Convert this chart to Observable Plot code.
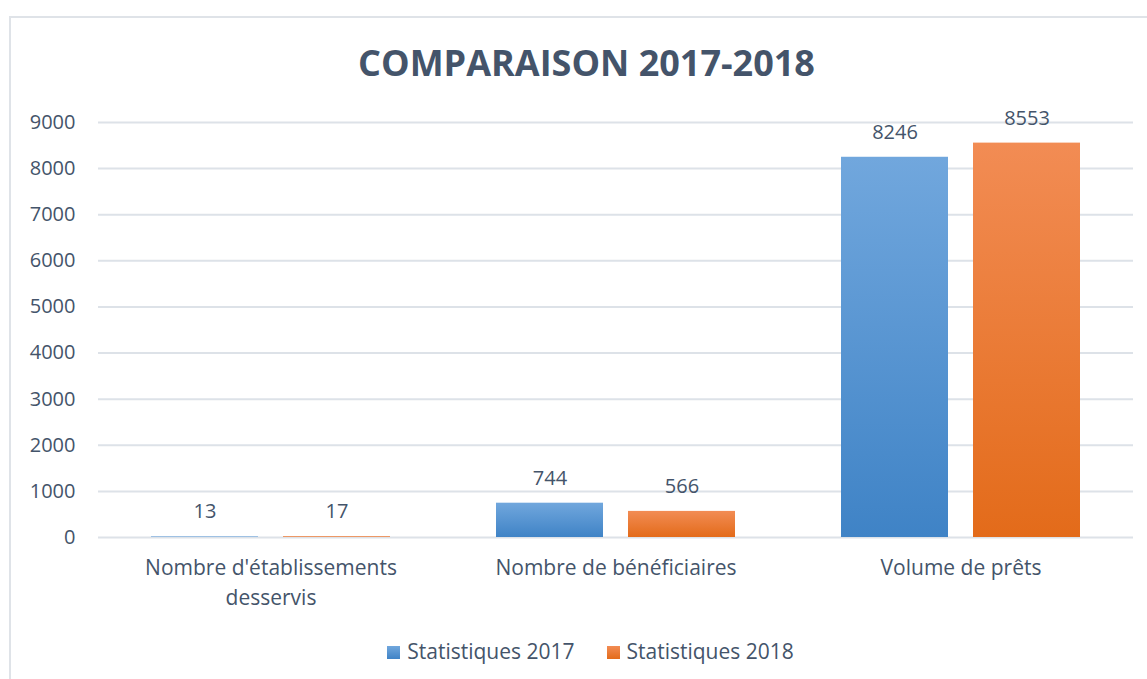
<!DOCTYPE html>
<html>
<head>
<meta charset="utf-8">
<script src="https://cdn.jsdelivr.net/npm/d3@7"></script>
<script src="https://cdn.jsdelivr.net/npm/@observablehq/plot@0.6"></script>
<style>
  html, body { margin: 0; padding: 0; background: #fff; width: 1147px; height: 679px; overflow: hidden; }
  #frame { position: absolute; left: 9px; top: 16px; width: 1200px; height: 720px; border-left: 2px solid #dfe3e8; border-top: 2px solid #dfe3e8; }
  #title { position: absolute; left: 0; width: 1173px; top: 38px; text-align: center; font-family: "Open Sans", sans-serif; font-weight: 700; font-size: 36px; line-height: 50px; color: #44546a; white-space: nowrap; }
  #chart { position: absolute; left: 0; top: 90px; }
  #legend { position: absolute; left: 0; width: 1181px; top: 636px; text-align: center; font-family: "Open Sans", sans-serif; font-size: 21px; line-height: 30px; color: #44546a; white-space: nowrap; }
  .item { display: inline-block; margin: 0 16px; }
  .sw { display: inline-block; width: 13px; height: 13px; margin-right: 7px; vertical-align: 0px; }
</style>
</head>
<body>
<div id="frame"></div>
<div id="title">COMPARAISON 2017-2018</div>
<div id="chart"></div>
<div id="legend"></div>
<script>
const categories = ["Nombre d'établissements desservis", "Nombre de bénéficiaires", "Volume de prêts"];
const categoryLabels = ["Nombre d'établissements\ndesservis", "Nombre de bénéficiaires", "Volume de prêts"];
const seriesNames = ["Statistiques 2017", "Statistiques 2018"];
const values2017 = [13, 744, 8246];
const values2018 = [17, 566, 8553];
const yTicks = [0, 1000, 2000, 3000, 4000, 5000, 6000, 7000, 8000, 9000];

const data = [];
categories.forEach((c, i) => {
  data.push({category: c, series: seriesNames[0], value: values2017[i]});
  data.push({category: c, series: seriesNames[1], value: values2018[i]});
});
const labelOf = new Map(categories.map((c, i) => [c, categoryLabels[i]]));
const textColor = "#44546a";

const plot = Plot.plot({
  width: 1147,
  height: 530,
  marginLeft: 98,
  marginRight: 14,
  marginTop: 32,
  marginBottom: 83,
  style: {fontFamily: "'Open Sans', sans-serif", fontSize: "20px", color: textColor, background: "transparent"},
  fx: {domain: categories, padding: 0, label: null, axis: null},
  x: {domain: seriesNames, paddingInner: 0.19, paddingOuter: 0.4, axis: null},
  y: {domain: [0, 9000], ticks: yTicks, label: null, axis: null},
  marks: [
    Plot.gridY(yTicks, {stroke: "#dde2e8", strokeOpacity: 1, strokeWidth: 2}),
    Plot.axisY(yTicks, {anchor: "left", tickSize: 0, tickPadding: 23, fontSize: 20, fill: textColor, label: null, tickFormat: d => String(d)}),
    Plot.axisFx({anchor: "bottom", tickSize: 0, tickPadding: 16, fontSize: 21, fill: textColor, lineHeight: 1.43, label: null, tickFormat: d => labelOf.get(d)}),
    Plot.barY(data.filter(d => d.series === seriesNames[0]), {fx: "category", x: "series", y: "value", fill: "url(#g2017)"}),
    Plot.barY(data.filter(d => d.series === seriesNames[1]), {fx: "category", x: "series", y: "value", fill: "url(#g2018)"}),
    Plot.text(data, {fx: "category", x: "series", y: "value", text: d => String(d.value), dy: -25, fontSize: 20, fill: textColor})
  ]
});

const ns = "http://www.w3.org/2000/svg";
const defs = document.createElementNS(ns, "defs");
function grad(id, top, bottom) {
  const g = document.createElementNS(ns, "linearGradient");
  g.setAttribute("id", id);
  g.setAttribute("x1", "0"); g.setAttribute("y1", "0");
  g.setAttribute("x2", "0"); g.setAttribute("y2", "1");
  [[0, top], [1, bottom]].forEach(([o, c]) => {
    const s = document.createElementNS(ns, "stop");
    s.setAttribute("offset", o);
    s.setAttribute("stop-color", c);
    g.appendChild(s);
  });
  defs.appendChild(g);
}
grad("g2017", "#71a7dd", "#3f83c6");
grad("g2018", "#f28c54", "#e36b1a");
plot.insertBefore(defs, plot.firstChild);
document.getElementById("chart").appendChild(plot);

const legend = document.getElementById("legend");
[["Statistiques 2017", "linear-gradient(#71a7dd,#3f83c6)"], ["Statistiques 2018", "linear-gradient(#f28c54,#e36b1a)"]].forEach(([n, bg]) => {
  const it = document.createElement("span");
  it.className = "item";
  it.innerHTML = `<span class="sw" style="background:${bg}"></span>${n}`;
  legend.appendChild(it);
});
</script>
</body>
</html>
